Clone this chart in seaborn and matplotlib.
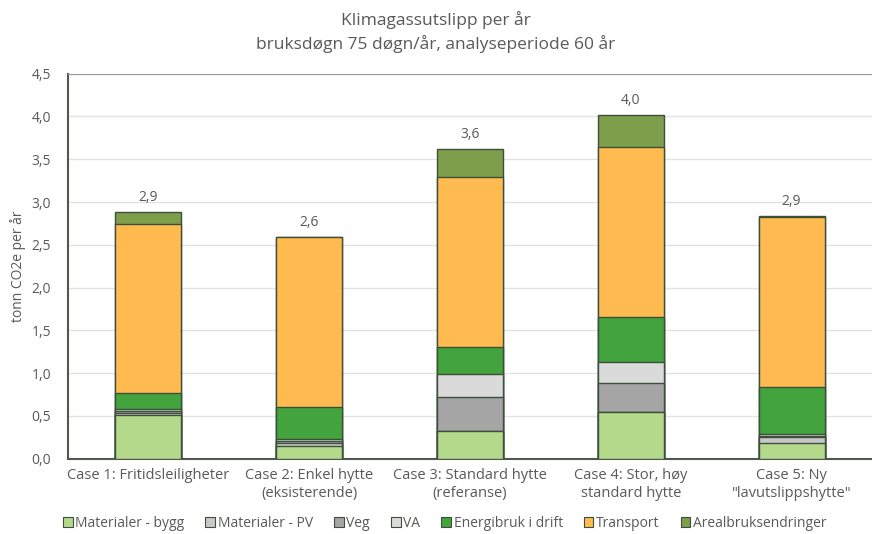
import numpy as np
import pandas as pd
import matplotlib
matplotlib.use("Agg")
import matplotlib.pyplot as plt
from matplotlib.patches import Patch
from matplotlib.ticker import FuncFormatter
import seaborn as sns

cases = ["Case 1: Fritidsleiligheter",
         "Case 2: Enkel hytte\n(eksisterende)",
         "Case 3: Standard hytte\n(referanse)",
         "Case 4: Stor, høy\nstandard hytte",
         "Case 5: Ny\n\"lavutslippshytte\""]

layers = ["Materialer - bygg", "Materialer - PV", "Veg", "VA",
          "Energibruk i drift", "Transport", "Arealbruksendringer"]

mat_bygg = [0.51, 0.15, 0.32, 0.55, 0.18]
mat_pv = [0.02, 0.03, 0.00, 0.00, 0.07]
veg = [0.03, 0.03, 0.40, 0.34, 0.02]
va = [0.02, 0.02, 0.27, 0.24, 0.02]
energi = [0.19, 0.37, 0.32, 0.53, 0.55]
transport = [1.97, 1.99, 1.98, 1.98, 1.98]
areal = [0.14, 0.00, 0.33, 0.38, 0.02]

total_labels = ["2,9", "2,6", "3,6", "4,0", "2,9"]

colors = ["#b5d98b", "#c8c8c8", "#a5a5a5", "#dadada",
          "#43a33d", "#ffbb4f", "#7f9e4b"]

sns.set_style("white")
plt.rcParams["font.family"] = ["Open Sans", "DejaVu Sans"]

series = [mat_bygg, mat_pv, veg, va, energi, transport, areal]
cum = np.cumsum(np.array(series), axis=0)

fig, ax = plt.subplots(figsize=(8.72, 5.34), dpi=100)
fig.subplots_adjust(left=0.078, right=1.0, top=0.862, bottom=0.141)

edge = "#3b4f3b"
# draw cumulative bars from the top layer down so lower layers cover them
for i in range(len(layers) - 1, -1, -1):
    df = pd.DataFrame({"case": cases, "value": cum[i]})
    sns.barplot(data=df, x="case", y="value", color=colors[i], width=0.41,
                edgecolor=edge, linewidth=1.0, saturation=1, ax=ax, zorder=3)

for k, lab in enumerate(total_labels):
    ax.annotate(lab, (k, cum[-1][k]), xytext=(0, 5), textcoords="offset points",
                ha="center", va="bottom", fontsize=10, color="#595959")

ax.set_ylim(0, 4.5)
ax.set_xlim(-0.5, 4.5)
ax.set_yticks(np.arange(0, 4.51, 0.5))
ax.yaxis.set_major_formatter(FuncFormatter(lambda v, p: f"{v:.1f}".replace(".", ",")))
ax.yaxis.grid(True, color="#e3e3e3", linewidth=1, zorder=0)
ax.set_axisbelow(True)
ax.set_xlabel("")
ax.set_ylabel("tonn CO2e per år", fontsize=10, color="#595959")
ax.tick_params(axis="both", labelsize=10.5, labelcolor="#595959", length=0)
ax.tick_params(axis="y", pad=12, labelsize=10)
ax.tick_params(axis="x", pad=7)

for s in ["right"]:
    ax.spines[s].set_visible(False)
ax.spines["top"].set_color("#9a9a9a")
ax.spines["left"].set_color("#4f5a4f")
ax.spines["bottom"].set_color("#4f5a4f")
ax.spines["left"].set_linewidth(1.5)
ax.spines["bottom"].set_linewidth(1.5)

fig.suptitle("Klimagassutslipp per år\nbruksdøgn 75 døgn/år, analyseperiode 60 år",
             fontsize=12.5, color="#595959", y=0.98, linespacing=1.45)

handles = [Patch(facecolor=c, edgecolor=edge, linewidth=0.8, label=l)
           for c, l in zip(colors, layers)]
fig.legend(handles=handles, loc="lower center", ncol=7, frameon=False,
           fontsize=10, labelcolor="#595959", bbox_to_anchor=(0.51, -0.018),
           handlelength=0.7, handleheight=0.7, handletextpad=0.2,
           columnspacing=1.5)

fig.savefig("out.png", dpi=100)
